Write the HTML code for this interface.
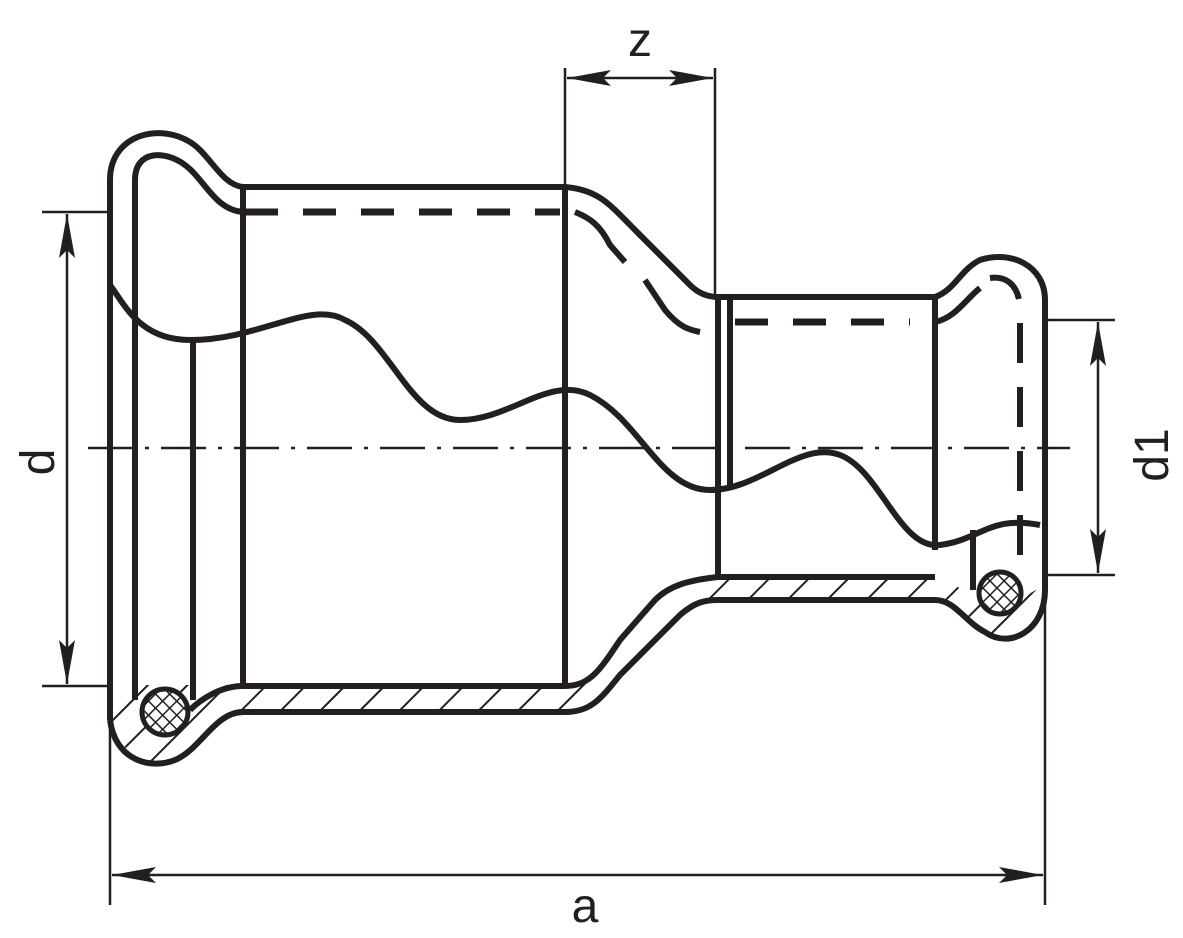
<!DOCTYPE html>
<html><head><meta charset="utf-8"><style>
html,body{margin:0;padding:0;background:#fff;width:1183px;height:938px;overflow:hidden}
svg{display:block}
text{font-family:"Liberation Sans",sans-serif;fill:#231f20}
</style></head><body>
<svg width="1183" height="938" viewBox="0 0 1183 938" xmlns="http://www.w3.org/2000/svg">
<defs>
<pattern id="h" patternUnits="userSpaceOnUse" width="28" height="28" patternTransform="rotate(45)">
<rect width="28" height="28" fill="#fff"/><line x1="0" y1="0" x2="0" y2="28" stroke="#231f20" stroke-width="4"/></pattern>
<pattern id="x" patternUnits="userSpaceOnUse" width="10" height="10" patternTransform="rotate(45)">
<rect width="10" height="10" fill="#fff"/><line x1="0" y1="0" x2="0" y2="10" stroke="#231f20" stroke-width="3"/><line x1="0" y1="0" x2="10" y2="0" stroke="#231f20" stroke-width="3"/></pattern>
<marker id="a" viewBox="0 0 44 16" refX="44" refY="8" markerWidth="44" markerHeight="16" markerUnits="userSpaceOnUse" orient="auto-start-reverse"><path d="M0,0 L44,8 L0,16 L8,8 Z" fill="#231f20"/></marker>
</defs>
<g fill="none" stroke="#231f20" stroke-width="6" stroke-linejoin="round">
<path d="M243,685 L565,685 C585,685 595,680 610,660 L680,600 C695,585 705,577 718,577 L935,577 C950,577 960,590 975,600 L1000,610 L1045,585 L1045,600 C1040,630 1010,640 990,635 C970,630 955,600 935,600 L718,600 C700,600 690,610 670,630 L610,690 C595,705 585,712 565,712 L243,712 C220,712 205,740 180,760 C150,770 120,755 110,720 L110,685 Z" fill="url(#h)" stroke="none"/>
<path d="M110,720 L110,180 C110,130 170,120 200,150 C215,165 225,185 243,187"/>
<path d="M110,720 C115,760 150,770 175,760 C200,750 215,712 243,712"/>
<path d="M135,700 L135,180 C135,150 165,150 185,165 C205,180 215,210 243,212"/>
<path d="M190,710 C200,700 220,686 243,686"/>
<line x1="193" y1="340" x2="193" y2="700"/>
<line x1="243" y1="185" x2="243" y2="686"/>
<line x1="243" y1="187" x2="565" y2="187"/>
<line x1="243" y1="686" x2="565" y2="686"/>
<line x1="243" y1="712" x2="565" y2="712"/>
<line x1="565" y1="187" x2="565" y2="686"/>
<path d="M245,212 L560,212" stroke-dasharray="33,25" stroke-width="7"/>
<path d="M565,187 C600,190 610,205 640,235 L690,285 C700,295 710,297 718,297"/>
<path d="M575,212 C590,218 600,225 610,245 L625,262" />
<path d="M645,280 L665,310 C680,328 690,330 700,332"/>
<path d="M565,686 C590,686 600,670 620,640 L655,600 C670,585 690,580 718,577"/>
<path d="M565,712 C590,712 600,700 620,675 L680,615 C695,602 705,600 718,600"/>
<line x1="718" y1="297" x2="935" y2="297"/>
<line x1="718" y1="295" x2="718" y2="577"/>
<line x1="730" y1="300" x2="730" y2="490"/>
<line x1="935" y1="297" x2="935" y2="550"/>
<line x1="718" y1="577" x2="935" y2="577"/>
<line x1="718" y1="600" x2="935" y2="600"/>
<path d="M735,322 L910,322" stroke-dasharray="33,25" stroke-width="7"/>
<path d="M935,297 C955,290 960,270 980,260 C1010,250 1045,265 1045,300 L1045,590 C1045,630 1010,650 985,632 C965,622 955,600 935,600"/>
<path d="M935,322 C955,318 965,300 980,288"/>
<path d="M990,278 C1010,275 1020,290 1020,310 L1020,570" stroke-dasharray="40,24"/>
<line x1="973" y1="530" x2="973" y2="590"/>
<circle cx="165" cy="712" r="23" fill="url(#x)" stroke-width="5"/>
<circle cx="1000" cy="593" r="21" fill="url(#x)" stroke-width="5"/>
<path d="M110,285 C125,305 140,340 190,340 C260,340 310,300 345,320 C390,340 410,420 460,420 C510,420 550,375 590,395 C640,420 660,490 710,490 C760,490 800,440 840,455 C880,470 900,550 940,545 C980,540 990,515 1040,525"/>
</g>
<line x1="88" y1="448" x2="1070" y2="448" stroke="#231f20" stroke-width="2.5" stroke-dasharray="45,12,4,12"/>
<g stroke="#231f20" stroke-width="2.5" fill="none">
<line x1="42" y1="212" x2="110" y2="212"/>
<line x1="42" y1="686" x2="110" y2="686"/>
<line x1="67" y1="214" x2="67" y2="684" marker-start="url(#a)" marker-end="url(#a)"/>
<line x1="1045" y1="320" x2="1115" y2="320"/>
<line x1="1045" y1="575" x2="1115" y2="575"/>
<line x1="1098" y1="322" x2="1098" y2="573" marker-start="url(#a)" marker-end="url(#a)"/>
<line x1="565" y1="68" x2="565" y2="187"/>
<line x1="715" y1="68" x2="715" y2="297"/>
<line x1="567" y1="78" x2="713" y2="78" marker-start="url(#a)" marker-end="url(#a)"/>
<line x1="110" y1="720" x2="110" y2="905"/>
<line x1="1045" y1="600" x2="1045" y2="905"/>
<line x1="112" y1="875" x2="1043" y2="875" marker-start="url(#a)" marker-end="url(#a)"/>
</g>
<text x="640" y="56" font-size="48" text-anchor="middle">z</text>
<text x="585" y="922" font-size="48" text-anchor="middle">a</text>
<text transform="translate(54,462) rotate(-90)" font-size="48" text-anchor="middle">d</text>
<text transform="translate(1168,455) rotate(-90)" font-size="48" text-anchor="middle">d1</text>
</svg>
</body></html>
